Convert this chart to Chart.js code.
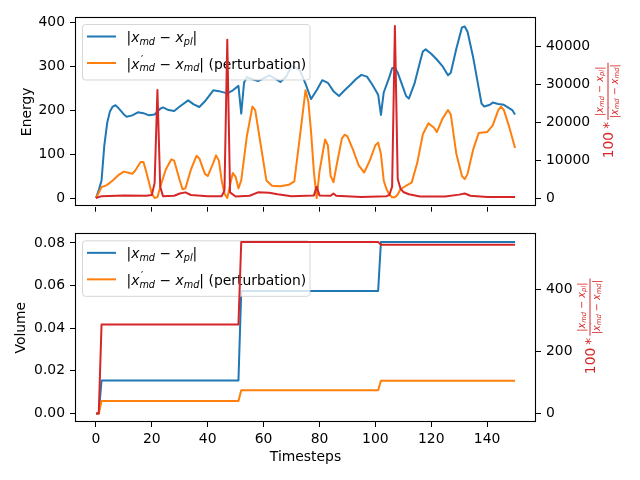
<!DOCTYPE html>
<html>
<head>
<meta charset="utf-8">
<script src="https://cdn.jsdelivr.net/npm/chart.js@4.4.0/dist/chart.umd.min.js"></script>
<style>
body { margin: 0; background: #fff; }
#wrap { position: relative; width: 640px; height: 480px; }
canvas { position: absolute; left: 0; }
</style>
</head>
<body>
<div id="wrap">
<canvas id="energyChart" width="640" height="220" style="top:0"></canvas>
<canvas id="volumeChart" width="640" height="260" style="top:220px"></canvas>
</div>
<script>
// energy panel
const blueT = [0, 1, 2, 3, 4, 5, 6, 7, 8, 10, 11, 13, 15, 17, 19, 21, 23, 24, 26, 28, 30, 33, 35, 37, 39, 42, 44, 47, 49, 51, 52, 53, 54, 56, 58, 60, 62, 64, 66, 68, 70, 71, 73, 75, 77, 79, 81, 83, 85, 87, 89, 91, 93, 95, 97, 99, 101, 102, 103, 105, 106, 107, 108, 110, 111, 112, 114, 116, 117, 118, 120, 122, 124, 126, 127, 129, 131, 132, 133, 135, 137, 138, 139, 141, 142, 144, 146, 147, 149, 150]
const blueE = [0, 18, 40, 120, 170, 197, 208, 211, 205, 190, 185, 188, 195, 193, 188, 190, 203, 206, 200, 198, 208, 222, 213, 207, 220, 245, 243, 238, 245, 255, 192, 262, 275, 270, 266, 272, 279, 272, 264, 275, 300, 298, 290, 260, 225, 245, 268, 262, 243, 232, 245, 257, 270, 280, 276, 257, 235, 189, 240, 275, 295, 297, 285, 250, 232, 226, 260, 310, 333, 338, 328, 315, 300, 279, 285, 340, 388, 390, 378, 320, 250, 215, 208, 212, 217, 214, 212, 208, 200, 190]

const orangeT = [0, 1, 2, 3, 4, 6, 8, 10, 12, 13, 14, 16, 17, 18, 19, 20, 21, 22, 23, 25, 27, 28, 30, 31, 32, 34, 36, 37, 39, 40, 42, 43, 44, 45, 46, 47, 48, 49, 50, 51, 52, 54, 56, 57, 59, 61, 63, 66, 69, 71, 73, 75, 76, 77, 78, 79, 80, 82, 83, 84, 85, 86, 88, 89, 90, 92, 94, 96, 98, 100, 101, 102, 103, 104, 105, 106, 107, 108, 109, 111, 113, 115, 117, 119, 121, 122, 124, 126, 127, 129, 131, 132, 133, 135, 137, 140, 142, 144, 145, 146, 148, 150]
const orangeE = [0, 12, 25, 27, 30, 40, 52, 60, 57, 55, 62, 82, 82, 60, 35, 10, 0, 2, 25, 65, 88, 85, 40, 20, 22, 65, 96, 90, 55, 50, 80, 97, 85, 40, 10, 0, 30, 57, 48, 22, 40, 140, 208, 200, 120, 40, 28, 27, 30, 38, 140, 245, 220, 150, 60, 0, 60, 133, 120, 50, 36, 70, 135, 144, 140, 110, 75, 58, 85, 120, 126, 100, 40, 20, 8, 2, 2, 8, 20, 28, 35, 80, 145, 170, 160, 150, 180, 200, 190, 100, 50, 43, 55, 110, 148, 150, 165, 200, 208, 200, 160, 114]

const redT = [0, 2, 10, 18, 20, 21, 22, 23, 24, 28, 30, 32, 34, 40, 45, 46, 47, 48, 50, 55, 58, 62, 65, 70, 78, 79, 80, 84, 85, 86, 95, 104, 105, 106, 107, 108, 109, 110, 112, 116, 125, 130, 132, 134, 140, 150]
const redR = [0, 500, 700, 600, 800, 4000, 28500, 3000, 500, 600, 1200, 1500, 800, 500, 500, 2000, 41800, 1500, 400, 600, 1500, 1400, 1000, 500, 700, 3000, 700, 600, 1200, 600, 300, 500, 800, 3000, 45400, 5000, 2500, 1600, 1000, 400, 400, 900, 1200, 600, 300, 300]

// volume panel
const volT = [0, 1, 2, 51, 52, 101, 102, 150]
const volBlue = [0, 0, 0.0155, 0.0155, 0.0575, 0.0575, 0.0805, 0.0805]
const volOrange = [0, 0, 0.0058, 0.0058, 0.0109, 0.0109, 0.0153, 0.0153]
const volRed = [0, 0, 286, 286, 552, 552, 543, 543]

const xTicks = [0, 20, 40, 60, 80, 100, 120, 140]
const energyTicks = [0, 100, 200, 300, 400]
const energyRatioTicks = [0, 10000, 20000, 30000, 40000]
const volumeTicks = [0, 0.02, 0.04, 0.06, 0.08]
const volumeRatioTicks = [0, 200, 400]

// legend / axis label pieces: n = normal, i = italic, s = subscript, p = prime
const labelDiff = [['|', 'n'], ['x', 'i'], ['md', 's'], [' \u2212 ', 'n'], ['x', 'i'], ['pl', 's'], ['|', 'n']]
const labelPert = [['|', 'n'], ['x', 'i'], ['\u2032', 'p'], ['md', 's'], [' \u2212 ', 'n'], ['x', 'i'], ['md', 's'], ['|', 'n']]

const BLUE = '#1f77b4', ORANGE = '#ff7f0e', RED = '#d62728'
const FONT = '"DejaVu Sans"'

Chart.defaults.font.family = FONT + ', sans-serif'
Chart.defaults.font.size = 13.9
Chart.defaults.color = '#000'

const pts = (xs, ys) => xs.map((x, i) => ({ x: x, y: ys[i] }))
const fixTicks = list => scale => { scale.ticks = list.map(v => ({ value: v })) }

function mathText(ctx, parts, x, y, size, draw) {
    let cx = x
    for (const [t, k] of parts) {
        const small = k === 's' || k === 'p'
        ctx.font = (k === 'i' || k === 's' ? 'italic ' : '') + (small ? size * 0.7 : size) + 'px ' + FONT
        const dy = k === 's' ? size * 0.2 : k === 'p' ? -size * 0.42 : 0
        const dx = k === 'p' ? size * 0.12 : 0
        if (draw) ctx.fillText(t, cx + dx, y + dy)
        if (k !== 'p') cx += ctx.measureText(t).width
    }
    return cx - x
}

function line(label, data, color, axis, order) {
    return {
        label: label, data: data, borderColor: color, backgroundColor: color,
        borderWidth: 2, pointRadius: 0, tension: 0, yAxisID: axis, order: order,
        borderJoinStyle: 'round'
    }
}

function xScale(showLabels, height) {
    return {
        type: 'linear', min: -7.5, max: 157.5,
        afterBuildTicks: fixTicks(xTicks),
        afterFit: s => { s.height = height },
        grid: { drawOnChartArea: false, tickLength: 5, tickColor: '#000', tickWidth: 1 },
        border: { display: false },
        ticks: { display: showLabels, padding: 4, maxRotation: 0 },
        title: { display: showLabels, text: 'Timesteps', padding: { top: 0, bottom: 14.5 } }
    }
}

function yScale(pos, min, max, list, fmt, width, title, titlePad) {
    return {
        type: 'linear', position: pos, min: min, max: max,
        afterBuildTicks: fixTicks(list),
        afterFit: s => { s.width = width },
        grid: { drawOnChartArea: false, tickLength: 5, tickColor: '#000', tickWidth: 1 },
        border: { display: false },
        ticks: { padding: 5, callback: fmt },
        title: { display: !!title, text: title, padding: { top: titlePad, bottom: 0 } }
    }
}

const framePlugin = {
    id: 'frame',
    afterDraw(chart) {
        const ctx = chart.ctx, a = chart.chartArea
        const l = Math.floor(a.left) + 0.5, r = Math.floor(a.right) - 0.5
        const t = Math.floor(a.top) + 0.5, b = Math.floor(a.bottom) - 0.5
        ctx.save()
        ctx.strokeStyle = '#000'
        ctx.lineWidth = 1.1
        ctx.strokeRect(l, t, r - l, b - t)
        ctx.restore()
    }
}

const legendPlugin = {
    id: 'mathLegend',
    beforeDatasetDraw(chart, args) {
        if (args.index !== 2) return
        const ctx = chart.ctx, a = chart.chartArea
        const x = a.left + 7.5, y = a.top + 7.5
        ctx.save()
        ctx.beginPath()
        ctx.roundRect(x, y, 227.5, 55.5, 3)
        ctx.fillStyle = 'rgba(255,255,255,0.8)'
        ctx.fill()
        ctx.strokeStyle = 'rgba(204,204,204,0.8)'
        ctx.lineWidth = 1
        ctx.stroke()
        const rows = [[BLUE, labelDiff, ''], [ORANGE, labelPert, ' (perturbation)']]
        rows.forEach((row, i) => {
            const ry = y + 12 + i * 26.5
            ctx.strokeStyle = row[0]
            ctx.lineWidth = 2
            ctx.beginPath()
            ctx.moveTo(x + 4.5, ry)
            ctx.lineTo(x + 33.5, ry)
            ctx.stroke()
            ctx.fillStyle = '#000'
            ctx.textBaseline = 'alphabetic'
            ctx.textAlign = 'left'
            const w = mathText(ctx, row[1], x + 44, ry + 5.5, 13.9, true)
            if (row[2]) {
                ctx.font = '13.9px ' + FONT
                ctx.fillText(row[2], x + 44 + w, ry + 5.5)
            }
        })
        ctx.restore()
    }
}

function ratioTitle(barX) {
    return {
        id: 'ratioTitle',
        afterDraw(chart) {
            const ctx = chart.ctx, a = chart.chartArea
            ctx.save()
            ctx.translate(barX, (a.top + a.bottom) / 2)
            ctx.rotate(-Math.PI / 2)
            ctx.fillStyle = RED
            ctx.textBaseline = 'alphabetic'
            ctx.font = '13.9px ' + FONT
            ctx.textAlign = 'right'
            ctx.fillText('100', -20, 5)
            ctx.textAlign = 'left'
            ctx.fillText('*', -17, 5)
            const size = 9.7
            const nw = mathText(ctx, labelDiff, 0, 0, size, false)
            const dw = mathText(ctx, labelPert, 0, 0, size, false)
            const w = Math.max(nw, dw) + 3
            const u0 = -8
            ctx.fillRect(u0, -0.5, w, 1)
            mathText(ctx, labelDiff, u0 + (w - nw) / 2, -5.5, size, true)
            mathText(ctx, labelPert, u0 + (w - dw) / 2, 9.5, size, true)
            ctx.restore()
        }
    }
}

const plain = v => String(v)

new Chart(document.getElementById('energyChart'), {
    type: 'line',
    data: {
        datasets: [
            line('|x_md - x_pl|', pts(blueT, blueE), BLUE, 'y', 2),
            line("|x'_md - x_md| (perturbation)", pts(orangeT, orangeE), ORANGE, 'y', 1),
            line('ratio', pts(redT, redR), RED, 'y2', 0)
        ]
    },
    options: {
        responsive: false,
        animation: false,
        layout: { padding: { top: 17, left: 0, right: 0, bottom: 0 } },
        plugins: { legend: { display: false }, tooltip: { enabled: false } },
        scales: {
            x: xScale(false, 11),
            y: yScale('left', -19.6, 411.6, energyTicks, plain, 75, 'Energy', 19),
            y2: yScale('right', -2275, 47775, energyRatioTicks, plain, 104, '', 0)
        }
    },
    plugins: [legendPlugin, framePlugin, ratioTitle(608)]
})

new Chart(document.getElementById('volumeChart'), {
    type: 'line',
    data: {
        datasets: [
            line('|x_md - x_pl|', pts(volT, volBlue), BLUE, 'y', 2),
            line("|x'_md - x_md| (perturbation)", pts(volT, volOrange), ORANGE, 'y', 1),
            line('ratio', pts(volT, volRed), RED, 'y2', 0)
        ]
    },
    options: {
        responsive: false,
        animation: false,
        layout: { padding: { top: 9.3, left: 0, right: 0, bottom: 0 } },
        plugins: { legend: { display: false }, tooltip: { enabled: false } },
        scales: {
            x: xScale(true, 58),
            y: yScale('left', -0.004025, 0.084525, volumeTicks, v => v.toFixed(2), 75, 'Volume', 13),
            y2: yScale('right', -27.6, 579.6, volumeRatioTicks, plain, 104, '', 0)
        }
    },
    plugins: [legendPlugin, framePlugin, ratioTitle(590)]
})
</script>
</body>
</html>
